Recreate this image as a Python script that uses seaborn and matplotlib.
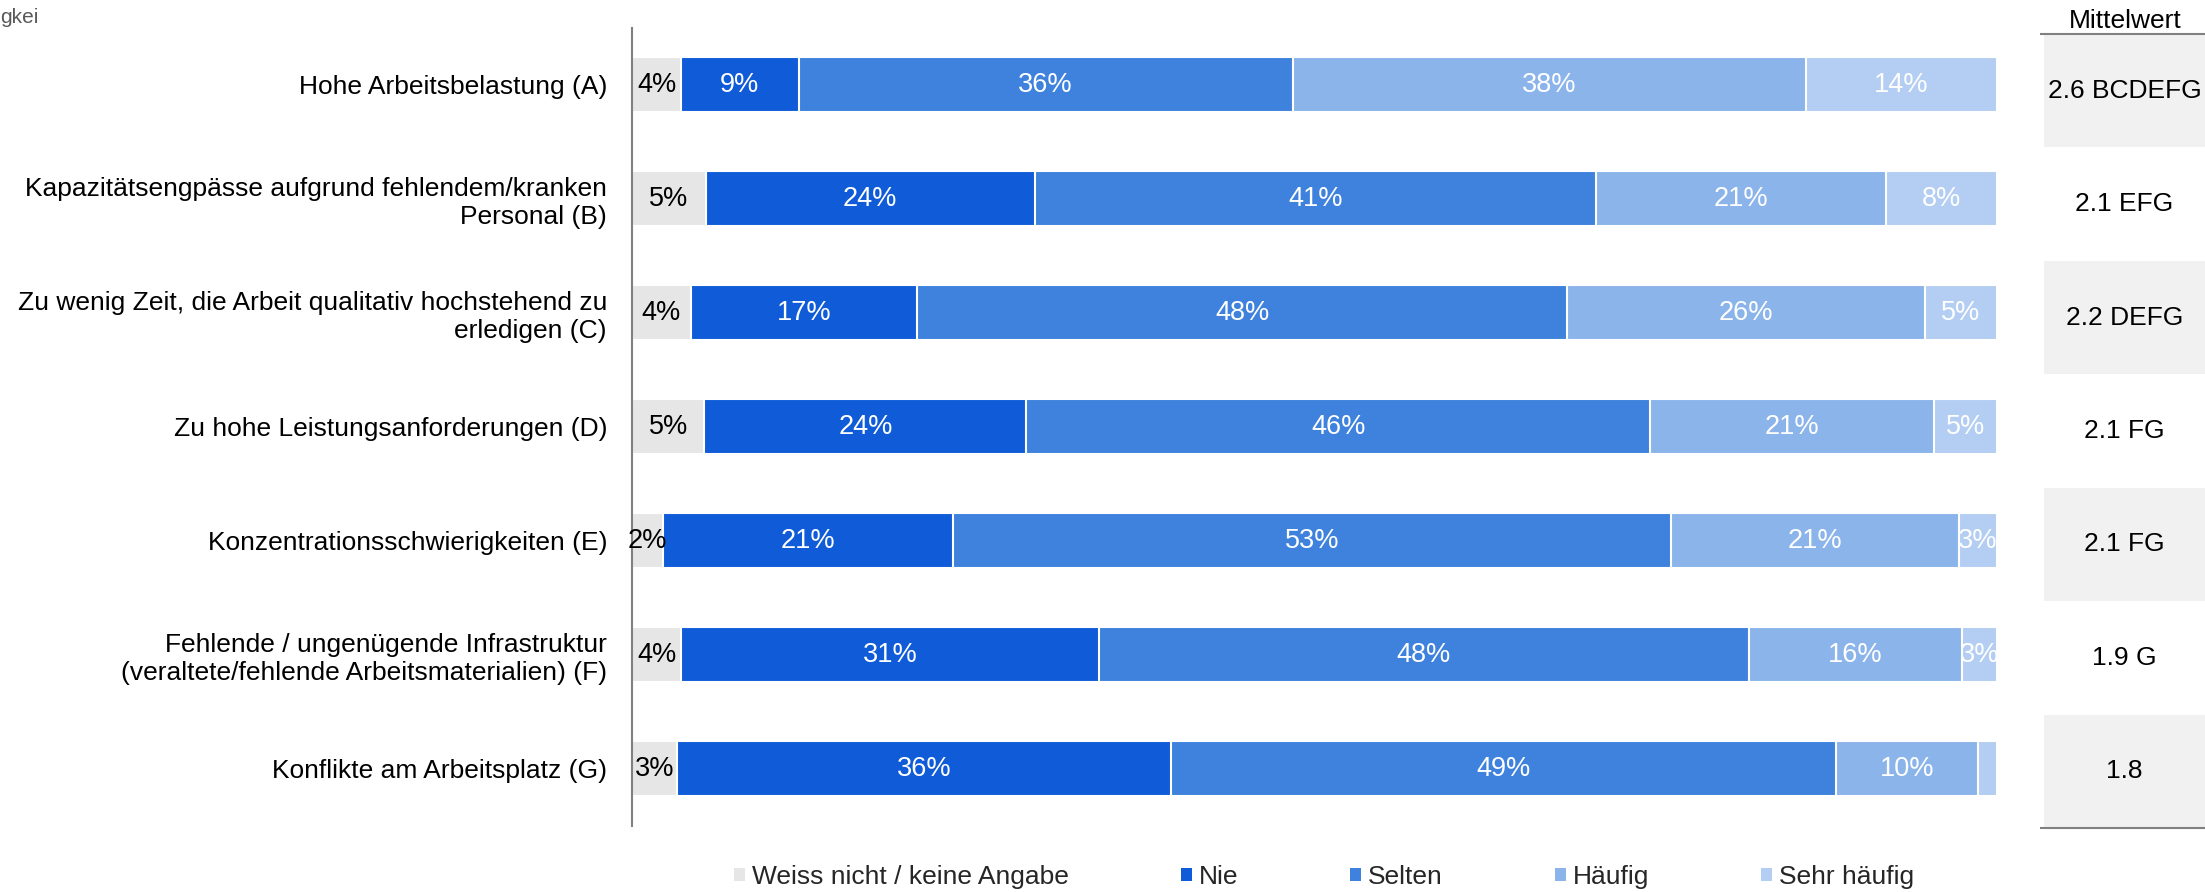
import matplotlib
matplotlib.use("Agg")
import matplotlib.pyplot as plt
from matplotlib.patches import Patch
import numpy as np
import pandas as pd
import seaborn as sns

categories = [
    "Hohe Arbeitsbelastung (A)",
    "Kapazitätsengpässe aufgrund fehlendem/kranken\nPersonal (B)",
    "Zu wenig Zeit, die Arbeit qualitativ hochstehend zu\nerledigen (C)",
    "Zu hohe Leistungsanforderungen (D)",
    "Konzentrationsschwierigkeiten (E)",
    "Fehlende / ungenügende Infrastruktur\n(veraltete/fehlende Arbeitsmaterialien) (F)",
    "Konflikte am Arbeitsplatz (G)",
]
series_names = ["Weiss nicht / keine Angabe", "Nie", "Selten", "Häufig", "Sehr häufig"]
weiss = [3.6, 5.4, 4.3, 5.3, 2.3, 3.6, 3.3]
nie = [8.6, 24.1, 16.6, 23.6, 21.2, 30.6, 36.2]
selten = [36.2, 41.1, 47.6, 45.7, 52.6, 47.6, 48.7]
haeufig = [37.6, 21.3, 26.2, 20.8, 21.1, 15.6, 10.4]
sehr = [14.0, 8.1, 5.3, 4.6, 2.8, 2.6, 1.4]
mittelwert = ["2.6 BCDEFG", "2.1 EFG", "2.2 DEFG", "2.1 FG", "2.1 FG", "1.9 G", "1.8"]

colors = ["#e6e6e6", "#105bd8", "#3e82dd", "#8bb4ea", "#b3cef2"]
text_colors = ["#000000", "white", "white", "white", "white"]

sns.set_theme(style="white")
plt.rcParams["font.family"] = ["Liberation Sans", "DejaVu Sans"]

W, H = 2205, 892
fig = plt.figure(figsize=(W / 100, H / 100), dpi=100)

def fx(px):
    return px / W

def fy(py):
    return 1 - py / H

ax = fig.add_axes([fx(632), fy(825.5), fx(1997) - fx(632), (825.5 - 27.5) / H])

data = np.array([weiss, nie, selten, haeufig, sehr])
cum = np.cumsum(data, axis=0)

for k in range(len(series_names) - 1, -1, -1):
    sns.barplot(x=cum[k], y=categories, orient="y", color=colors[k],
                saturation=1, width=0.48, edgecolor="white", linewidth=1.5, ax=ax)

lefts = cum - data
for k in range(len(series_names)):
    for i in range(len(categories)):
        v = data[k, i]
        if v >= 2.0:
            ax.text(lefts[k, i] + v / 2, i, f"{v:.0f}%", ha="center", va="center",
                    fontsize=19.5, color=text_colors[k])

ax.set_xlim(0, 100)
ax.set_ylim(6.5, -0.5)
ax.set_xlabel("")
ax.set_ylabel("")
ax.set_xticks([])
ax.tick_params(axis="y", length=0, pad=18, labelsize=19, labelcolor="black")
for s in ["top", "right", "bottom"]:
    ax.spines[s].set_visible(False)
ax.spines["left"].set_color("#808080")
ax.spines["left"].set_linewidth(1.5)

# Mittelwert column
ax2 = fig.add_axes([fx(2040), fy(828), fx(2205) - fx(2040), (828 - 34) / H])
ax2.set_xlim(0, 165)
ax2.set_ylim(6.5, -0.5)
ax2.axis("off")
for i in range(len(categories)):
    if i % 2 == 0:
        ax2.barh(i, 161, left=4, height=1.0, color="#f1f1f1", linewidth=0)
    ax2.text(84.5, i, mittelwert[i], ha="center", va="center", fontsize=19, color="black")
ax2.plot([0, 165], [-0.5, -0.5], color="#808080", lw=1.5, clip_on=False, solid_capstyle="butt")
ax2.plot([0, 165], [6.5, 6.5], color="#808080", lw=1.5, clip_on=False, solid_capstyle="butt")
ax2.text(85, -0.55, "Mittelwert", ha="center", va="baseline", fontsize=19, color="black")

# legend
handles = [Patch(facecolor=c, edgecolor="none") for c in colors]
fig.legend(handles, series_names, loc="center", bbox_to_anchor=(fx(1324), fy(877)),
           ncol=5, frameon=False, fontsize=19, handlelength=0.42, handleheight=0.42,
           handletextpad=0.25, columnspacing=4.25, borderaxespad=0, borderpad=0)

fig.text(0, fy(23), "gkei", fontsize=15, color="#595959", ha="left", va="baseline")

fig.savefig("out.png", dpi=100)
